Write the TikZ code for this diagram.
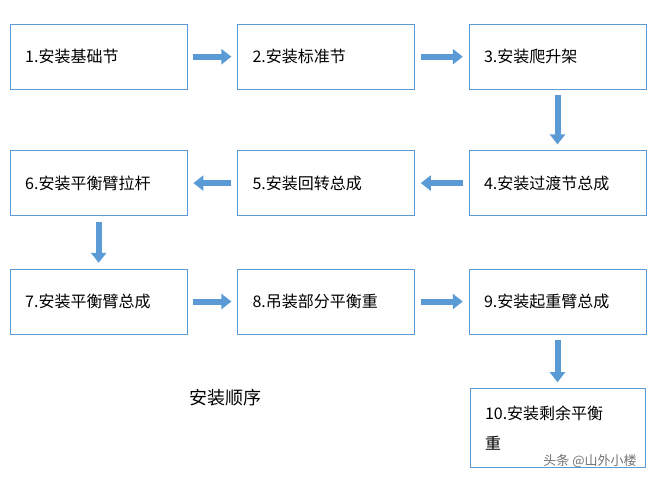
\documentclass[tikz,border=0pt]{standalone}
\usepackage{fontspec}
\setmainfont{Noto Sans CJK SC}
\usetikzlibrary{positioning,arrows.meta}
\definecolor{boxblue}{HTML}{5B9BD5}
\tikzset{stage/.style={draw=boxblue,thin,minimum width=177pt,minimum height=65pt,text width=147pt,inner xsep=15pt,align=left,font=\fontsize{16}{30}\selectfont},
  bigarrow/.style={draw=boxblue,line width=6pt,-{Triangle[length=10pt,width=15pt]},shorten <=6pt,shorten >=6pt}}
\begin{document}
\begin{tikzpicture}[x=1pt,y=-1pt]
\useasboundingbox (0,0) rectangle (664,482);

%Nodes
\node [stage,anchor=north west] (s1) at (10,24) {1.安装基础节};
\node [stage,right=50pt of s1] (s2) {2.安装标准节};
\node [stage,right=54pt of s2] (s3) {3.安装爬升架};
\node [stage,below=61pt of s3] (s4) {4.安装过渡节总成};
\node [stage,below=61pt of s2] (s5) {5.安装回转总成};
\node [stage,below=61pt of s1] (s6) {6.安装平衡臂拉杆};
\node [stage,below=53pt of s6] (s7) {7.安装平衡臂总成};
\node [stage,below=53pt of s5] (s8) {8.吊装部分平衡重};
\node [stage,below=53pt of s4] (s9) {9.安装起重臂总成};
\node [stage,minimum width=175pt,minimum height=79pt,text width=145pt,below=54pt of s9] (s10) {10.安装剩余平衡\\重};

\node [font=\fontsize{18}{22}\selectfont] (title) at (225,398) {安装顺序};
\node [font=\fontsize{13}{15}\selectfont,text=gray!90!black] (mark) at (590,461) {头条 @山外小楼};

%Arrows
\draw[bigarrow] (s1) -- (s2);
\draw[bigarrow] (s2) -- (s3);
\draw[bigarrow] (s3) -- (s4);
\draw[bigarrow] (s4) -- (s5);
\draw[bigarrow] (s5) -- (s6);
\draw[bigarrow] (s6) -- (s7);
\draw[bigarrow] (s7) -- (s8);
\draw[bigarrow] (s8) -- (s9);
\draw[bigarrow] (s9) -- (s10);
\end{tikzpicture}
\end{document}
